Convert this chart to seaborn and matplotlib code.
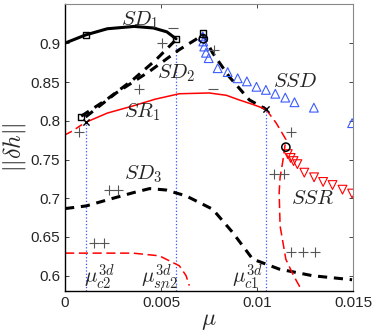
import numpy as np
import pandas as pd
import matplotlib
matplotlib.use("Agg")
import matplotlib.pyplot as plt
import seaborn as sns

# ---------------------------------------------------------------------------
# dados
# ---------------------------------------------------------------------------
sd1_mu = [0.0, 0.00107, 0.0022, 0.0036, 0.0046, 0.0053, 0.00578]
sd1_h = [0.9005, 0.911, 0.919, 0.922, 0.920, 0.915, 0.906]

sd2a_mu = [0.00084, 0.00214, 0.00353, 0.00474, 0.00578]
sd2a_h = [0.806, 0.827, 0.853, 0.879, 0.905]

sd2b_mu = [0.00107, 0.00266, 0.0044, 0.00595, 0.0068, 0.00717, 0.00768, 0.00855, 0.0096, 0.01046]
sd2b_h = [0.805, 0.836, 0.864, 0.892, 0.905, 0.912, 0.888, 0.857, 0.827, 0.815]

sr1_mu = [0.00107, 0.0022, 0.0035, 0.0047, 0.00595, 0.0075, 0.0084, 0.00907, 0.0098, 0.01046]
sr1_h = [0.798, 0.810, 0.819, 0.828, 0.835, 0.836, 0.833, 0.827, 0.821, 0.815]

sr1d_mu = [0.0, 0.0004, 0.00075, 0.00107]
sr1d_h = [0.782, 0.787, 0.793, 0.798]

ssr_curve_mu = [0.01046, 0.0110, 0.0115, 0.01133, 0.0112, 0.01115, 0.0112, 0.0115, 0.0119, 0.01228]
ssr_curve_h = [0.815, 0.797, 0.776, 0.746, 0.727, 0.707, 0.664, 0.621, 0.600, 0.583]

sd3_mu = [0.0, 0.0011, 0.00231, 0.00353, 0.0044, 0.00526, 0.0063, 0.00769, 0.00873, 0.00977, 0.01115, 0.01289, 0.01495]
sd3_h = [0.6866, 0.690, 0.6986, 0.707, 0.7124, 0.7106, 0.703, 0.6857, 0.6557, 0.6213, 0.6084, 0.5998, 0.5946]

low_mu = [0.0, 0.0018, 0.00353, 0.00491, 0.00595, 0.0063, 0.00647]
low_h = [0.629, 0.629, 0.629, 0.6255, 0.6127, 0.600, 0.587]

ssd_mu = [0.00717, 0.0072, 0.00725, 0.00734, 0.00748, 0.00795, 0.00847, 0.00899, 0.00947,
          0.00997, 0.01046, 0.01095, 0.01147, 0.01195, 0.01296, 0.01495]
ssd_h = [0.909, 0.9026, 0.896, 0.888, 0.881, 0.868, 0.863, 0.855, 0.851,
         0.844, 0.840, 0.835, 0.830, 0.824, 0.817, 0.797]

ssr_mu = [0.0116, 0.01175, 0.0119, 0.0121, 0.01246, 0.01297, 0.01344, 0.01393, 0.01445, 0.01495]
ssr_h = [0.757, 0.752, 0.748, 0.744, 0.733, 0.727, 0.721, 0.717, 0.711, 0.706]

plus_mu = [0.00503, 0.00387, 0.00075, 0.00777, 0.01176, 0.00231, 0.00275, 0.00153, 0.00205,
           0.01089, 0.01138, 0.01176, 0.01237, 0.01303]
plus_h = [0.900, 0.841, 0.786, 0.891, 0.786, 0.7106, 0.7106, 0.6415, 0.6415,
          0.7308, 0.7308, 0.631, 0.631, 0.631]

minus_mu = [0.0056, 0.00769]
minus_h = [0.920, 0.841]

sq_mu = [0.00107, 0.00578, 0.00717, 0.00084]
sq_h = [0.911, 0.906, 0.913, 0.805]

circ_mu = [0.0072, 0.0115]
circ_h = [0.906, 0.766]

cross_mu = [0.01046, 0.00107]
cross_h = [0.815, 0.798]

vlines_mu = [0.00107, 0.00578, 0.01046]
vlines_top = [0.798, 0.905, 0.815]

# ---------------------------------------------------------------------------
sns.set_style("ticks")
plt.rcParams["mathtext.fontset"] = "cm"
plt.rcParams["font.family"] = ["Liberation Sans", "DejaVu Sans"]

fig = plt.figure(figsize=(3.74, 3.33), dpi=100)
ax = fig.add_axes([0.174, 0.126, 0.77, 0.862])

ymin = 0.58
for m, t in zip(vlines_mu, vlines_top):
    ax.plot([m, m], [ymin, t], color="#3355ff", linestyle=":", linewidth=0.9, zorder=1)

def curva(mu, h, **kw):
    df = pd.DataFrame({"mu": mu, "h": h})
    sns.lineplot(data=df, x="mu", y="h", sort=False, estimator=None, ax=ax, **kw)

curva(sd1_mu, sd1_h, color="black", linewidth=2.2)
curva(sd2a_mu, sd2a_h, color="black", linewidth=2.2, dashes=(3, 2.2))
curva(sd2b_mu, sd2b_h, color="black", linewidth=2.2, dashes=(3, 2.2))
curva(sd3_mu, sd3_h, color="black", linewidth=2.2, dashes=(3, 2.2))
curva(sr1_mu, sr1_h, color="red", linewidth=1.1)
curva(sr1d_mu, sr1d_h, color="red", linewidth=1.1, dashes=(5, 3))
curva(ssr_curve_mu, ssr_curve_h, color="red", linewidth=1.1, dashes=(6, 3))
curva(low_mu, low_h, color="red", linewidth=1.1, dashes=(6, 3))

sns.scatterplot(x=ssd_mu, y=ssd_h, marker="^", s=40, facecolor="none",
                edgecolor="#3a5bff", linewidth=0.8, ax=ax, zorder=4)
sns.scatterplot(x=ssr_mu, y=ssr_h, marker="v", s=40, facecolor="none",
                edgecolor="red", linewidth=0.8, ax=ax, zorder=4)
sns.scatterplot(x=plus_mu, y=plus_h, marker="+", s=60, color="#555555",
                linewidth=0.8, ax=ax, zorder=4)
sns.scatterplot(x=minus_mu, y=minus_h, marker="_", s=60, color="#555555",
                linewidth=0.8, ax=ax, zorder=4)
sns.scatterplot(x=sq_mu, y=sq_h, marker="s", s=20, facecolor="none",
                edgecolor="black", linewidth=1.0, ax=ax, zorder=5)
sns.scatterplot(x=circ_mu, y=circ_h, marker="o", s=35, facecolor="none",
                edgecolor="black", linewidth=1.1, ax=ax, zorder=5)
sns.scatterplot(x=cross_mu, y=cross_h, marker="x", s=20, color="black",
                linewidth=1.0, ax=ax, zorder=5)

lab = dict(fontsize=15, ha="center", va="center")
ax.text(0.0039, 0.930, r"$SD_1$", **lab)
ax.text(0.0058, 0.862, r"$SD_2$", **lab)
ax.text(0.0040, 0.811, r"$SR_1$", **lab)
ax.text(0.0041, 0.731, r"$SD_3$", **lab)
ax.text(0.0120, 0.851, r"$SSD$", **lab)
ax.text(0.0129, 0.700, r"$SSR$", **lab)
ax.text(0.0018, 0.598, r"$\mu_{c2}^{3d}$", **lab)
ax.text(0.0049, 0.598, r"$\mu_{sn2}^{3d}$", **lab)
ax.text(0.0095, 0.598, r"$\mu_{c1}^{3d}$", **lab)

ax.set_xlim(0, 0.015)
ax.set_ylim(ymin, 0.951)
ax.set_xticks([0, 0.005, 0.01, 0.015])
ax.set_xticklabels(["0", "0.005", "0.01", "0.015"])
ax.set_yticks([0.6, 0.65, 0.7, 0.75, 0.8, 0.85, 0.9])
ax.set_yticklabels(["0.6", "0.65", "0.7", "0.75", "0.8", "0.85", "0.9"])
ax.tick_params(direction="in", top=True, right=True, labelsize=11, length=3, width=0.6)
ax.set_xlabel(r"$\mu$", fontsize=17, labelpad=0)
ax.set_ylabel(r"$||\delta h||$", fontsize=17, labelpad=2)
for s in ["top", "right"]:
    ax.spines[s].set_color("#888888")
for s in ["left", "bottom"]:
    ax.spines[s].set_color("black")
    ax.spines[s].set_linewidth(1.0)

plt.savefig("out.png", dpi=100)
